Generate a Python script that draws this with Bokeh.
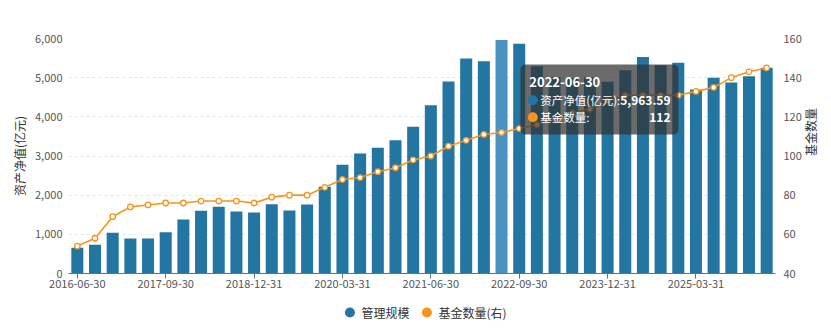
from bokeh.plotting import figure
from bokeh.layouts import column
from bokeh.models import (Range1d, LinearAxis, FixedTicker, Legend, LegendItem,
                          BoxAnnotation, Label, NumeralTickFormatter, ColumnDataSource)
from bokeh.embed import file_html
from bokeh.resources import INLINE

# Quarter-end reporting dates
dates = [
    "2016-06-30", "2016-09-30", "2016-12-31", "2017-03-31", "2017-06-30",
    "2017-09-30", "2017-12-31", "2018-03-31", "2018-06-30", "2018-09-30",
    "2018-12-31", "2019-03-31", "2019-06-30", "2019-09-30", "2019-12-31",
    "2020-03-31", "2020-06-30", "2020-09-30", "2020-12-31", "2021-03-31",
    "2021-06-30", "2021-09-30", "2021-12-31", "2022-03-31", "2022-06-30",
    "2022-09-30", "2022-12-31", "2023-03-31", "2023-06-30", "2023-09-30",
    "2023-12-31", "2024-03-31", "2024-06-30", "2024-09-30", "2024-12-31",
    "2025-03-31", "2025-06-30", "2025-09-30", "2025-12-31", "2026-03-31",
]

# Net asset value, 100 million yuan (管理规模)
nav = [
    655, 732, 1038, 894, 894, 1055, 1379, 1600, 1702, 1583,
    1557, 1770, 1609, 1762, 2213, 2774, 3064, 3209, 3404, 3745,
    4298, 4902, 5489, 5421, 5963.59, 5864, 5292, 5011, 4990, 5005,
    4893, 5190, 5530, 5318, 5379, 4698, 4996, 4877, 5038, 5251,
]

# Number of funds (基金数量, right axis)
funds = [
    54, 58, 69, 74, 75, 76, 76, 77, 77, 77,
    76, 79, 80, 80, 84, 88, 89, 92, 94, 98,
    100, 105, 108, 111, 112, 114, 116, 119, 122, 124,
    128, 131, 131, 131, 131, 133, 135, 140, 143, 145,
]

label_dates = ["2016-06-30", "2017-09-30", "2018-12-31", "2020-03-31",
               "2021-06-30", "2022-09-30", "2023-12-31", "2025-03-31"]
hover_date = "2022-06-30"

BLUE = "#2276a1"
BLUE_HI = "#4a93c0"
ORANGE = "#f7941d"
FONT = "Noto Sans CJK SC"
TICK_SIZE = "11px"

idx = list(range(len(dates)))
hi = dates.index(hover_date)
colors = [BLUE_HI if i == hi else BLUE for i in idx]
src = ColumnDataSource(dict(x=idx, nav=nav, funds=funds, color=colors))

p = figure(width=831, height=296, output_backend="svg", toolbar_location=None,
           x_range=Range1d(-0.5, len(dates) - 0.5), y_range=Range1d(0, 6000),
           min_border_left=68, min_border_right=56, min_border_top=38,
           min_border_bottom=23)
p.outline_line_color = None
p.extra_y_ranges = {"cnt": Range1d(40, 160)}

# bottom axis: only every fifth quarter labelled
xa = p.xaxis[0]
tick_pos = [dates.index(d) for d in label_dates]
xa.ticker = FixedTicker(ticks=tick_pos)
xa.major_label_overrides = {i: dates[i] for i in tick_pos}
xa.minor_tick_line_color = None
xa.major_tick_in = 0
xa.major_tick_out = 5
xa.minor_tick_out = 0
xa.axis_line_color = "#6e7079"
xa.major_tick_line_color = "#6e7079"
xa.major_label_text_font = FONT
xa.major_label_text_font_size = TICK_SIZE
xa.major_label_text_color = "#555555"
xa.major_label_standoff = 1

ya = p.yaxis[0]
ya.ticker = FixedTicker(ticks=[0, 1000, 2000, 3000, 4000, 5000, 6000])
ya.formatter = NumeralTickFormatter(format="0,0")
ya.axis_line_color = None
ya.major_tick_line_color = None
ya.minor_tick_line_color = None
ya.major_tick_out = 0
ya.minor_tick_out = 0
ya.major_label_text_font = FONT
ya.major_label_text_font_size = TICK_SIZE
ya.major_label_text_color = "#555555"
ya.major_label_standoff = 6
ya.axis_label = "资产净值(亿元)"
ya.axis_label_text_font = FONT
ya.axis_label_text_font_size = "12px"
ya.axis_label_text_font_style = "normal"
ya.axis_label_text_color = "#333333"
ya.axis_label_standoff = 4

ra = LinearAxis(y_range_name="cnt", ticker=FixedTicker(ticks=[40, 60, 80, 100, 120, 140, 160]))
ra.axis_line_color = None
ra.major_tick_line_color = None
ra.minor_tick_line_color = None
ra.major_tick_out = 0
ra.minor_tick_out = 0
ra.major_label_text_font = FONT
ra.major_label_text_font_size = TICK_SIZE
ra.major_label_text_color = "#555555"
ra.major_label_standoff = 8
ra.axis_label = "基金数量"
ra.axis_label_text_font = FONT
ra.axis_label_text_font_size = "12px"
ra.axis_label_text_font_style = "normal"
ra.axis_label_text_color = "#333333"
ra.axis_label_standoff = 6
if hasattr(ra, "axis_label_orientation"):
    ra.axis_label_orientation = 1.5708
p.add_layout(ra, "right")

p.xgrid.grid_line_color = None
p.ygrid.grid_line_color = "#e0e6f1"
p.ygrid.grid_line_dash = "3 3"

p.vbar(x="x", top="nav", width=0.68, source=src, fill_color="color", line_color=None)
p.line(x="x", y="funds", source=src, y_range_name="cnt", line_color=ORANGE, line_width=1.6)
p.scatter(x="x", y="funds", source=src, y_range_name="cnt", size=5.5,
          fill_color="white", line_color=ORANGE, line_width=1.3)

# hover tooltip for the highlighted quarter
tl, tr, tt, tb = 25.07, 34.01, 5336, 3549
p.add_layout(BoxAnnotation(left=tl, right=tr, top=tt, bottom=tb, fill_color="#323232",
                           fill_alpha=0.72, line_color=None, border_radius=5))
tx = tl + 0.5
p.add_layout(Label(x=tx, y=4884, text=dates[hi], text_color="white", text_font=FONT,
                   text_font_size="13px", text_font_style="bold", text_baseline="middle"))
p.add_layout(Label(x=tx + 0.62, y=4425, text="资产净值(亿元):", text_color="white",
                   text_font=FONT, text_font_size="11.5px", text_baseline="middle"))
p.add_layout(Label(x=tr - 0.45, y=4425, text=f"{nav[hi]:,.2f}", text_color="white",
                   text_font=FONT, text_font_size="12px", text_font_style="bold",
                   text_align="right", text_baseline="middle"))
p.add_layout(Label(x=tx + 0.62, y=3991, text="基金数量:", text_color="white",
                   text_font=FONT, text_font_size="11.5px", text_baseline="middle"))
p.add_layout(Label(x=tr - 0.45, y=3991, text=f"{funds[hi]}", text_color="white",
                   text_font=FONT, text_font_size="12px", text_font_style="bold",
                   text_align="right", text_baseline="middle"))
dots = p.scatter(x=[tx + 0.2, tx + 0.2], y=[4425, 3991], size=10,
                 fill_color=[BLUE, ORANGE], line_color=None)
dots.level = "overlay"

# legend strip underneath the chart
lg = figure(width=831, height=32, output_backend="svg", toolbar_location=None,
            x_range=Range1d(0, 1), y_range=Range1d(0, 1), min_border=0)
lg.axis.visible = False
lg.grid.grid_line_color = None
lg.outline_line_color = None
leg_blue = lg.scatter(x=[-5], y=[-5], size=10, fill_color=BLUE, line_color=None)
leg_orange = lg.scatter(x=[-5], y=[-5], size=10, fill_color=ORANGE, line_color=None)
legend = Legend(items=[LegendItem(label="管理规模", renderers=[leg_blue]),
                       LegendItem(label="基金数量(右)", renderers=[leg_orange])],
                orientation="horizontal", location="center",
                label_text_font=FONT, label_text_font_size="12px", label_text_color="#333333",
                glyph_width=25, glyph_height=25, label_standoff=0, spacing=4,
                border_line_color=None, background_fill_alpha=0, padding=0, margin=0)
lg.add_layout(legend)

open("out.html", "w").write(file_html(column(p, lg, spacing=0), INLINE))
